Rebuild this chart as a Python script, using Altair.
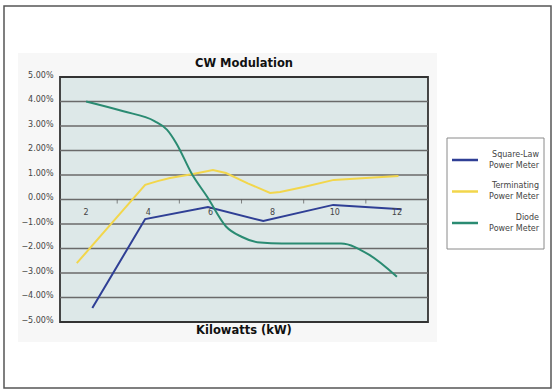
import altair as alt
import pandas as pd

# Series read as (kilowatts, error in percent)
names = ["Square-Law Power Meter", "Terminating Power Meter", "Diode Power Meter"]
legend_lines = [["Square-Law", "Power Meter"], ["Terminating", "Power Meter"], ["Diode", "Power Meter"]]
colors = ["#2f3f95", "#f2d64b", "#2a8b72"]
interp = ["linear", "linear", "monotone"]

square_x = [2.2, 3.9, 5.92, 7.7, 9.95, 12.15]
square_y = [-4.43, -0.8, -0.31, -0.88, -0.22, -0.4]

term_x = [1.7, 3.9, 4.3, 4.7, 5.44, 6.08, 6.5, 7.2, 7.92, 8.24, 9.0, 9.97, 11.0, 12.05]
term_y = [-2.6, 0.6, 0.75, 0.88, 1.04, 1.2, 1.08, 0.66, 0.27, 0.31, 0.51, 0.8, 0.88, 0.96]

diode_x = [2.0, 3.2, 4.2, 4.6, 4.9, 5.4, 5.9, 6.5, 7.0, 7.6, 8.3, 10.2, 11.1, 12.0]
diode_y = [4.0, 3.6, 3.2, 2.85, 2.3, 1.05, 0.1, -1.1, -1.52, -1.76, -1.8, -1.8, -2.25, -3.15]

x_labels = [2, 4, 6, 8, 10, 12]
x_ticks = [3, 5, 7, 9, 11]
y_ticks = [-5, -4, -3, -2, -1, 0, 1, 2, 3, 4, 5]
grid_vals = [-4, -3, -2, -1, 0, 1, 2, 3, 4]

W, H = 368, 245
FONT = "DejaVu Sans"

series_data = [(square_x, square_y), (term_x, term_y), (diode_x, diode_y)]

xs_scale = alt.Scale(domain=[1.16, 13.0], nice=False, zero=False)
ys_scale = alt.Scale(domain=[-5, 5], nice=False, zero=False)
y_axis = alt.Axis(
    values=y_ticks, labelExpr="format(datum.value, '.2f') + '%'",
    domain=False, ticks=False, grid=False, labelPadding=7, labelOffset=-2,
    labelFont=FONT, labelFontSize=8, labelColor="#444", title=None, zindex=2,
)

one = pd.DataFrame({"k": [0]})

# outer frame and the light chart panel
frame = alt.Chart(one).mark_rect(fill="white", stroke="#555", strokeWidth=1.5).encode(
    x=alt.value(-56), x2=alt.value(491), y=alt.value(-71), y2=alt.value(311))
panel = alt.Chart(one).mark_rect(fill="#f7f7f7").encode(
    x=alt.value(-42), x2=alt.value(377), y=alt.value(-24), y2=alt.value(265))
plot_bg = alt.Chart(one).mark_rect(fill="#dde8e8", stroke="#333", strokeWidth=1.8).encode(
    x=alt.value(0), x2=alt.value(W), y=alt.value(0), y2=alt.value(H))

grid = alt.Chart(pd.DataFrame({"v": grid_vals})).mark_rule(color="#6a6a6a", strokeWidth=1.5).encode(
    y=alt.Y("v:Q", scale=ys_scale, axis=y_axis))

ticks = alt.Chart(pd.DataFrame({"t": x_ticks, "zero": [0] * len(x_ticks)})).mark_tick(
    orient="vertical", size=4, thickness=1, color="#555", yOffset=2).encode(
    x=alt.X("t:Q", scale=xs_scale, axis=None),
    y=alt.Y("zero:Q", scale=ys_scale, axis=y_axis))

xlab = alt.Chart(pd.DataFrame({"t": x_labels, "zero": [0] * len(x_labels)})).mark_text(
    font=FONT, fontSize=8, color="#444", dy=13.5, baseline="middle").encode(
    x=alt.X("t:Q", scale=xs_scale, axis=None),
    y=alt.Y("zero:Q", scale=ys_scale, axis=y_axis),
    text=alt.Text("t:Q"))

line_layers = []
for name, (xs, ys), mode in zip(names, series_data, interp):
    d = pd.DataFrame({"series": name, "kw": xs, "pct": ys, "order": range(len(xs))})
    line_layers.append(alt.Chart(d).mark_line(interpolate=mode, strokeWidth=2).encode(
        x=alt.X("kw:Q", scale=xs_scale, axis=None),
        y=alt.Y("pct:Q", scale=ys_scale, axis=y_axis),
        color=alt.Color("series:N", scale=alt.Scale(domain=names, range=colors), legend=None),
        order="order:Q",
    ))

title = alt.Chart(one).mark_text(font=FONT, fontSize=11.5, fontWeight="bold", color="#111",
                                 baseline="middle").encode(
    x=alt.value(W / 2), y=alt.value(-13), text=alt.value("CW Modulation"))
xtitle = alt.Chart(one).mark_text(font=FONT, fontSize=11.5, fontWeight="bold", color="#111",
                                  baseline="middle").encode(
    x=alt.value(W / 2), y=alt.value(254), text=alt.value("Kilowatts (kW)"))

# legend box with line samples and right-aligned two-line labels
legend_layers = [alt.Chart(one).mark_rect(fill="white", stroke="#8a8a8a", strokeWidth=1).encode(
    x=alt.value(387), x2=alt.value(484), y=alt.value(61), y2=alt.value(172))]
for i, (lines_txt, col) in enumerate(zip(legend_lines, colors)):
    yc = 83 + i * 31.5
    legend_layers.append(alt.Chart(one).mark_rule(color=col, strokeWidth=2.5).encode(
        x=alt.value(392), x2=alt.value(418), y=alt.value(yc)))
    for j, txt in enumerate(lines_txt):
        legend_layers.append(alt.Chart(one).mark_text(
            font=FONT, fontSize=8, color="#444", align="right", baseline="middle").encode(
            x=alt.value(479), y=alt.value(yc - 5.5 + j * 11), text=alt.value(txt)))

chart = alt.layer(
    frame, panel, plot_bg, grid, ticks, *line_layers, xlab, title, xtitle, *legend_layers
).properties(
    width=W, height=H,
    autosize=alt.AutoSizeParams(type="none"),
    padding={"left": 60, "top": 77, "right": 554 - 60 - W, "bottom": 390 - 77 - H},
    background="white",
).configure_view(stroke=None, fill=None)

chart.save("out.html", embed_options={"renderer": "svg", "actions": False})
